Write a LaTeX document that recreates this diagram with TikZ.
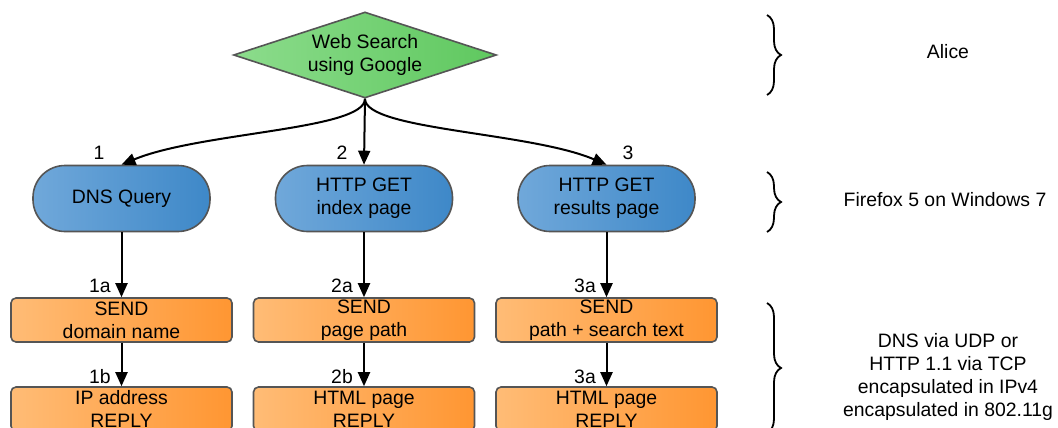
\documentclass[tikz,border=0pt]{standalone}
\usepackage{fontspec}
\setmainfont{Liberation Sans}
\usetikzlibrary{shapes.geometric,arrows.meta,decorations.pathreplacing}
\definecolor{gL}{RGB}{140,220,140}
\definecolor{gR}{RGB}{95,200,95}
\definecolor{bL}{RGB}{112,168,218}
\definecolor{bR}{RGB}{62,136,200}
\definecolor{oL}{RGB}{255,188,118}
\definecolor{oR}{RGB}{255,150,50}
\definecolor{edge}{RGB}{85,85,85}
\begin{document}
\begin{tikzpicture}[x=1pt,y=-1pt,
  every node/.style={font=\fontsize{19.4}{23}\selectfont, align=center, inner sep=0pt},
  deci/.style={diamond, aspect=3, minimum width=263pt, minimum height=86pt, draw=edge, line width=1.6pt, left color=gL, right color=gR},
  pill/.style={rectangle, rounded corners=32pt, minimum width=177pt, minimum height=66pt, draw=edge, line width=1.6pt, left color=bL, right color=bR},
  obox/.style={rectangle, rounded corners=5pt, minimum width=221pt, minimum height=44pt, draw=edge, line width=1.6pt, left color=oL, right color=oR},
  conn/.style={-{Triangle[length=14pt,width=12pt]}, line width=2pt},
  brc/.style={decorate, decoration={brace, amplitude=14pt}, line width=1.8pt},
]
\useasboundingbox (0,0) rectangle (1058,428);
\clip (0,0) rectangle (1058,428);

\node[deci] (web) at (365,55) {Web Search\\using Google};

\node[pill] (dns) at (121.5,198.5) {DNS Query};
\node[pill] (geti) at (364,198.5) {HTTP GET\\index page};
\node[pill] (getr) at (606.5,198.5) {HTTP GET\\results page};

\node[obox] (s1) at (121.5,320) {SEND\\domain name};
\node[obox] (s2) at (364,320) {SEND\\page path};
\node[obox] (s3) at (606.5,320) {SEND\\path + search text};

\node[obox] (r1) at (121.5,409) {IP address\\REPLY};
\node[obox] (r2) at (364,409) {HTML page\\REPLY};
\node[obox] (r3) at (606.5,409) {HTML page\\REPLY};

\draw[conn] (web.south) .. controls (365,130) and (200,132) .. (dns.north);
\draw[conn] (web.south) -- (geti.north);
\draw[conn] (web.south) .. controls (365,130) and (530,132) .. (getr.north);

\draw[conn] (dns.south) -- (s1.north);
\draw[conn] (geti.south) -- (s2.north);
\draw[conn] (getr.south) -- (s3.north);
\draw[conn] (s1.south) -- (r1.north);
\draw[conn] (s2.south) -- (r2.north);
\draw[conn] (s3.south) -- (r3.north);

\node (l1) at (99,153) {1};
\node (l2) at (342,153) {2};
\node (l3) at (628,153) {3};
\node (l1a) at (100,286) {1a};
\node (l2a) at (342,286) {2a};
\node (l3a) at (585,286) {3a};
\node (l1b) at (100,377) {1b};
\node (l2b) at (342,377) {2b};
\node (l3b) at (585,377) {3a};

\draw[brc] (767,15) -- (767,95);
\draw[brc] (767,172) -- (767,232);
\draw[brc] (767,303) -- (767,433);

\node (alice) at (948,52) {Alice};
\node (ff) at (945,200) {Firefox 5 on Windows 7};
\node (proto) at (948,377) {DNS via UDP or\\HTTP 1.1 via TCP\\encapsulated in IPv4\\encapsulated in 802.11g};
\end{tikzpicture}
\end{document}
